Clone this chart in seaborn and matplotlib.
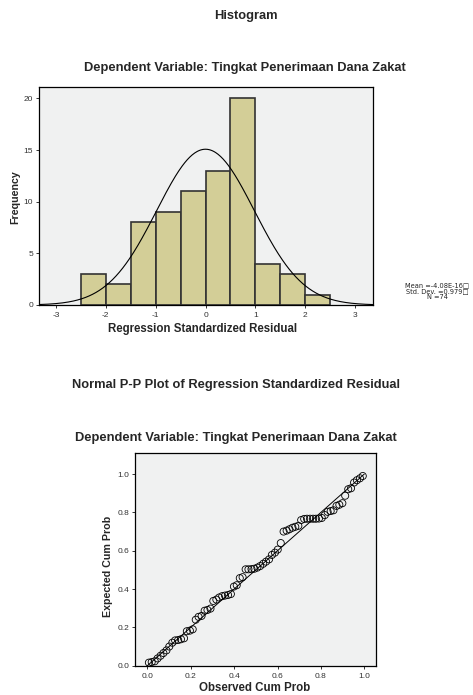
import numpy as np
import pandas as pd
import matplotlib
matplotlib.use("Agg")
import matplotlib.pyplot as plt
import seaborn as sns

# ---------------- data ----------------
bin_edges = [-2.5, -2.0, -1.5, -1.0, -0.5, 0.0, 0.5, 1.0, 1.5, 2.0, 2.5]
bin_counts = [3, 2, 8, 9, 11, 13, 20, 4, 3, 1]
resid_mean = -4.08e-16
resid_sd = 0.979
resid_n = 74
hist_xticks = [-3, -2, -1, 0, 1, 2, 3]
hist_yticks = [0, 5, 10, 15, 20]

observed_cum_prob = [
    0.007, 0.020, 0.034, 0.047, 0.061, 0.074, 0.088, 0.101, 0.115, 0.128,
    0.142, 0.155, 0.169, 0.182, 0.196, 0.209, 0.223, 0.236, 0.250, 0.264,
    0.277, 0.291, 0.304, 0.318, 0.331, 0.345, 0.358, 0.372, 0.385, 0.399,
    0.412, 0.426, 0.439, 0.453, 0.466, 0.480, 0.493, 0.507, 0.520, 0.534,
    0.547, 0.561, 0.574, 0.588, 0.601, 0.615, 0.628, 0.642, 0.655, 0.669,
    0.682, 0.696, 0.709, 0.723, 0.736, 0.750, 0.764, 0.777, 0.791, 0.804,
    0.818, 0.831, 0.845, 0.858, 0.872, 0.885, 0.899, 0.912, 0.926, 0.939,
    0.953, 0.966, 0.980, 0.993,
]
expected_cum_prob = [
    0.016, 0.019, 0.023, 0.038, 0.052, 0.066, 0.080, 0.100, 0.120, 0.132,
    0.134, 0.138, 0.143, 0.180, 0.183, 0.190, 0.240, 0.255, 0.260, 0.287,
    0.291, 0.298, 0.338, 0.345, 0.356, 0.363, 0.366, 0.369, 0.374, 0.413,
    0.420, 0.457, 0.462, 0.503, 0.503, 0.504, 0.506, 0.512, 0.520, 0.532,
    0.543, 0.555, 0.578, 0.590, 0.606, 0.640, 0.700, 0.705, 0.712, 0.720,
    0.725, 0.730, 0.760, 0.766, 0.767, 0.767, 0.767, 0.767, 0.768, 0.771,
    0.786, 0.803, 0.807, 0.811, 0.834, 0.840, 0.848, 0.887, 0.921, 0.926,
    0.956, 0.968, 0.978, 0.990,
]
pp_ticks = [0.0, 0.2, 0.4, 0.6, 0.8, 1.0]
pp_ticklabels = ["0.0", "0.2", "0.4", "0.6", "0.8", "1.0"]

# ---------------- style ----------------
sns.set_theme(style="ticks")
plt.rcParams["font.family"] = ["Liberation Sans", "DejaVu Sans"]
plt.rcParams["axes.linewidth"] = 0.9
plt.rcParams["xtick.major.width"] = 0.7
plt.rcParams["ytick.major.width"] = 0.7
plt.rcParams["xtick.major.size"] = 2.5
plt.rcParams["ytick.major.size"] = 2.5
plt.rcParams["xtick.major.pad"] = 2.5
plt.rcParams["ytick.major.pad"] = 1.8

W, H = 473, 695
fig = plt.figure(figsize=(W / 100, H / 100), dpi=100)
fig.patch.set_facecolor("white")

panel_bg = "#f0f1f1"
bar_color = "#d3ce97"
tick_fs = 6.0
label_fs = 8.3
vlabel_fs = 7.7
title_fs = 9.3

# ---------------- histogram ----------------
ax1 = fig.add_axes([39 / W, 1 - 305 / H, (373 - 39) / W, (305 - 87) / H])
ax1.set_facecolor(panel_bg)
centers = [(a + b) / 2 for a, b in zip(bin_edges[:-1], bin_edges[1:])]
hist_df = pd.DataFrame({"resid": centers, "count": bin_counts})
sns.histplot(data=hist_df, x="resid", weights="count", bins=bin_edges,
             color=bar_color, alpha=1.0, edgecolor="#333333", linewidth=1.2,
             ax=ax1)
xs = np.linspace(-3.34, 3.36, 400)
bw = bin_edges[1] - bin_edges[0]
curve = resid_n * bw / (resid_sd * np.sqrt(2 * np.pi)) * np.exp(-0.5 * ((xs - resid_mean) / resid_sd) ** 2)
sns.lineplot(x=xs, y=curve, color="black", linewidth=0.8, ax=ax1)
ax1.set_xlim(-3.34, 3.36)
ax1.set_ylim(0, 21.1)
ax1.set_xticks(hist_xticks)
ax1.set_xticklabels([str(t) for t in hist_xticks])
ax1.set_yticks(hist_yticks)
ax1.tick_params(labelsize=tick_fs, colors="#333333", labelcolor="#333333")
ax1.set_xlabel("")
ax1.set_ylabel("")
for s in ax1.spines.values():
    s.set_visible(True)
    s.set_color("black")

fig.text(203 / W, 1 - 329 / H, "Regression Standardized Residual", ha="center", va="center",
         fontsize=label_fs, fontweight="bold")
fig.text(15 / W, 1 - 197 / H, "Frequency", ha="center", va="center", rotation=90,
         fontsize=vlabel_fs, fontweight="bold")

fig.text(246 / W, 1 - 16 / H, "Histogram", ha="center", va="center",
         fontsize=title_fs, fontweight="bold")
fig.text(245 / W, 1 - 68 / H, "Dependent Variable: Tingkat Penerimaan Dana Zakat",
         ha="center", va="center", fontsize=title_fs, fontweight="bold")

stats_lines = ["Mean =-4.08E-16\u25a1", "Std. Dev. =0.979\u25a1", "N =74"]
for k, line in enumerate(stats_lines):
    fig.text(437 / W, 1 - (285.2 + 5.8 * k) / H, line, ha="center", va="center",
             fontsize=4.8, color="#222222", family=["DejaVu Sans"])

# ---------------- P-P plot ----------------
ax2 = fig.add_axes([135 / W, 1 - 665.7 / H, (376 - 135) / W, (665.7 - 453) / H])
ax2.set_facecolor(panel_bg)
sns.lineplot(x=[0, 1], y=[0, 1], color="black", linewidth=0.7, ax=ax2)
sns.scatterplot(x=observed_cum_prob, y=expected_cum_prob, marker="o", s=26,
                facecolor="none", edgecolor="black", linewidth=0.6, ax=ax2)
ax2.set_xlim(-0.057, 1.054)
ax2.set_ylim(0.0, 1.11)
ax2.set_xticks(pp_ticks)
ax2.set_xticklabels(pp_ticklabels)
ax2.set_yticks(pp_ticks)
ax2.set_yticklabels(pp_ticklabels)
ax2.tick_params(labelsize=tick_fs, colors="#333333", labelcolor="#333333")
for s in ax2.spines.values():
    s.set_visible(True)
    s.set_color("black")

fig.text(255 / W, 1 - 688 / H, "Observed Cum Prob", ha="center", va="center",
         fontsize=label_fs, fontweight="bold")
fig.text(108 / W, 1 - 566 / H, "Expected Cum Prob", ha="center", va="center",
         rotation=90, fontsize=vlabel_fs, fontweight="bold")

fig.text(236 / W, 1 - 385 / H, "Normal P-P Plot of Regression Standardized Residual",
         ha="center", va="center", fontsize=title_fs, fontweight="bold")
fig.text(236 / W, 1 - 438 / H, "Dependent Variable: Tingkat Penerimaan Dana Zakat",
         ha="center", va="center", fontsize=title_fs, fontweight="bold")

fig.savefig("out.png", dpi=100, facecolor="white")
